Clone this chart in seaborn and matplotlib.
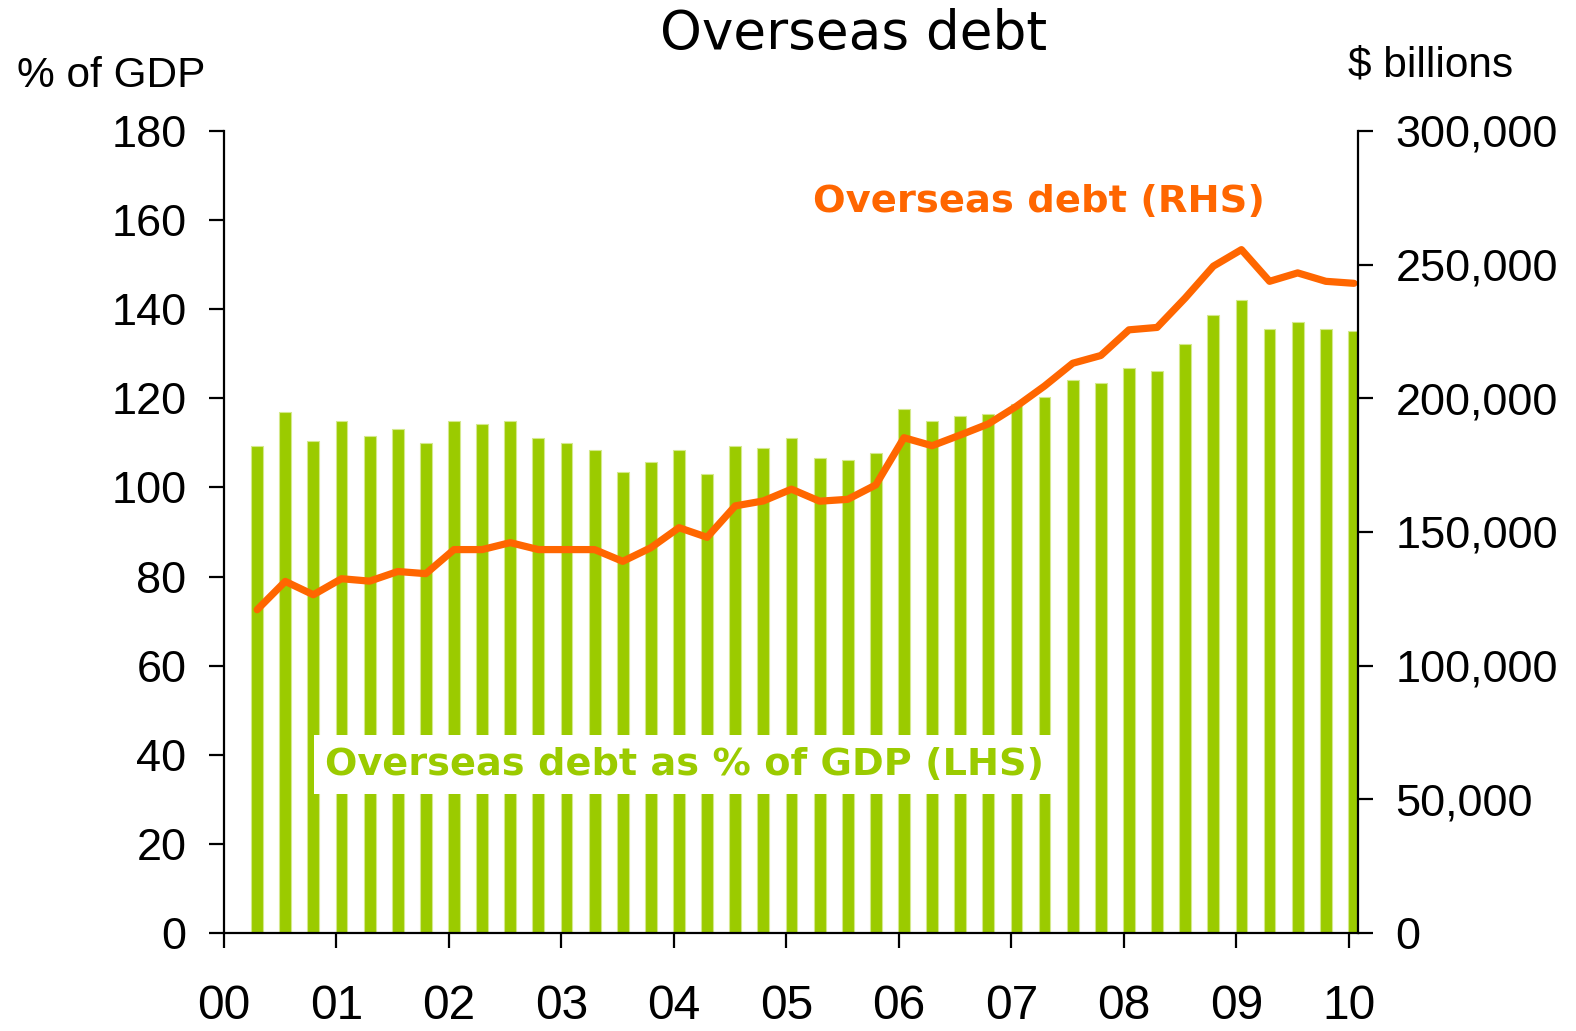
import pandas as pd
import matplotlib
matplotlib.use("Agg")
import matplotlib.pyplot as plt
import seaborn as sns
from matplotlib.ticker import FuncFormatter

# quarterly data, 2000 Q1 - 2009 Q4
quarters = pd.period_range("2000Q1", "2009Q4", freq="Q")
debt_pct_gdp = [109.4, 117.0, 110.5, 114.9, 111.6, 113.2, 110.0, 114.9, 114.3, 114.9,
                111.0, 110.0, 108.4, 103.5, 105.7, 108.4, 102.9, 109.4, 108.9, 111.0,
                106.7, 106.2, 107.8, 117.6, 114.8, 116.0, 116.5, 118.7, 120.3, 124.1,
                123.5, 126.8, 126.2, 132.2, 138.7, 142.0, 135.5, 137.2, 135.5, 135.0]
debt_bn = [120900, 131500, 126500, 132500, 131600, 135200, 134400, 143400, 143400, 146000,
           143400, 143400, 143400, 139000, 144100, 151600, 148000, 159750, 161600, 166000,
           161500, 162200, 167600, 185250, 182250, 186250, 190400, 197000, 204600, 213100,
           216000, 225600, 226500, 237500, 249400, 255600, 243750, 246900, 243750, 243000]
year_ticks = list(range(2000, 2011))
year_labels = [f"{y % 100:02d}" for y in year_ticks]

green = "#9BCB00"
orange = "#FF6600"

# bars sit just after the end of each quarter on a decimal-year axis
xpos = [q.year + q.quarter * 0.25 + 0.045 for q in quarters]
df = pd.DataFrame({"x": xpos, "pct": debt_pct_gdp, "bn": debt_bn})

sns.set_style("white")
plt.rcParams["font.family"] = ["Liberation Sans", "DejaVu Sans"]
plt.rcParams.update({"text.color": "black", "axes.labelcolor": "black",
                     "xtick.color": "black", "ytick.color": "black"})

fig = plt.figure(figsize=(15.76, 10.31), dpi=100)
ax = fig.add_axes([0.1421, 0.0951, 0.7195, 0.7779])

sns.barplot(data=df, x="x", y="pct", native_scale=True, width=0.42, color=green,
            saturation=1, errorbar=None, edgecolor="#D4E98C", linewidth=0.8, ax=ax)
ax.set_ylim(0, 180)
ax.set_yticks(range(0, 181, 20))

ax2 = ax.twinx()
sns.lineplot(data=df, x="x", y="bn", color=orange, linewidth=5.2, ax=ax2)
ax2.set_ylim(0, 300000)
ax2.set_yticks(range(0, 300001, 50000))
ax2.yaxis.set_major_formatter(FuncFormatter(lambda v, p: f"{int(v):,}"))

ax.set_xlim(2000, 2010.08)
ax.set_xticks(year_ticks)
ax.set_xticklabels(year_labels)

for a in (ax, ax2):
    a.set_xlabel("")
    a.set_ylabel("")
    a.spines["top"].set_visible(False)
    for s in a.spines.values():
        s.set_linewidth(1.6)
        s.set_color("black")
ax.spines["right"].set_visible(False)
ax2.spines["left"].set_visible(False)
ax2.spines["bottom"].set_visible(False)

ax.tick_params(axis="y", direction="out", length=11, width=1.6, labelsize=32.5, pad=16, left=True)
ax.tick_params(axis="x", direction="out", length=11, width=1.6, labelsize=34.5, pad=26, bottom=True)
ax2.tick_params(axis="y", direction="out", length=11, width=1.6, labelsize=32.5, pad=16, right=True)

fig.text(0.5413, 0.967, "Overseas debt", ha="center", va="center", fontsize=38.3,
         family=["DejaVu Sans"])
fig.text(0.0108, 0.926, "% of GDP", ha="left", va="center", fontsize=30.5)
fig.text(0.960, 0.936, "$ billions", ha="right", va="center", fontsize=30.5)

fig.text(0.6590, 0.804, "Overseas debt (RHS)", ha="center", va="center", fontsize=27.7,
         fontweight="bold", color=orange, family=["DejaVu Sans"])
ax.text(0.4065, 0.2095, "Overseas debt as % of GDP (LHS)", transform=ax.transAxes,
        ha="center", va="center", fontsize=27.5, fontweight="bold", color=green,
        family=["DejaVu Sans"],
        bbox=dict(boxstyle="square,pad=0.3", facecolor="white", edgecolor="none"))

fig.savefig("out.png", dpi=100)
